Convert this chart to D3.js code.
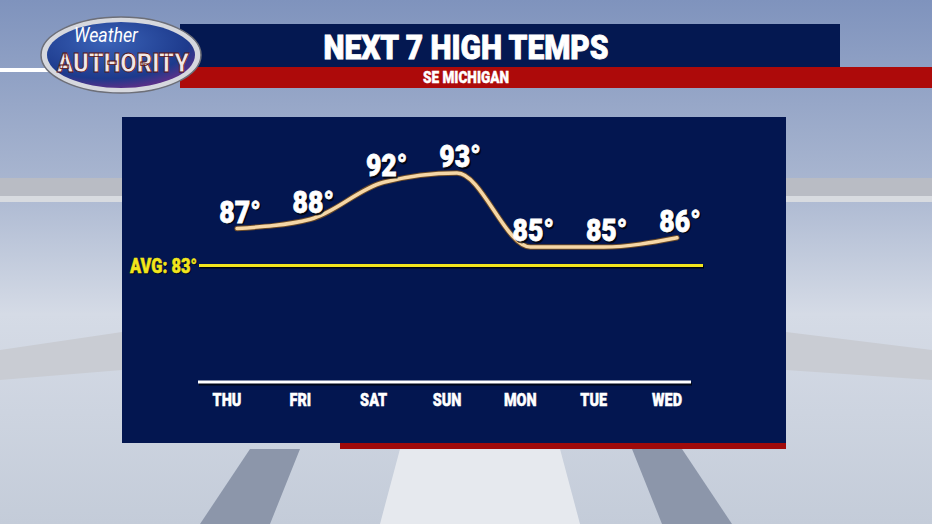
<!DOCTYPE html>
<meta charset="utf-8">
<style>
body { margin: 0; background: #9aaac8; overflow: hidden; }
svg { display: block; font-family: Roboto, "Liberation Sans", Arial, sans-serif; }
</style>
<svg class="chart" width="932" height="524"></svg>
<script src="https://cdn.jsdelivr.net/npm/d3@7"></script>
<script>
var days = ["THU", "FRI", "SAT", "SUN", "MON", "TUE", "WED"];
var highs = [87, 88, 92, 93, 85, 85, 86];
var avgTemp = 83;
var titleText = "NEXT 7 HIGH TEMPS";
var subText = "SE MICHIGAN";

var svg = d3.select(".chart");
var defs = svg.append("defs");

// heavy narrow text: draw at origin then squeeze horizontally
function narrowText(parent, tx, ty, str, size, fill, anchor, sx) {
  return parent.append("text")
    .attr("transform", "translate(" + tx + "," + ty + ") scale(" + (sx || 0.8) + ",1)")
    .attr("text-anchor", anchor || "middle")
    .style("font-size", size + "px")
    .style("font-weight", "900")
    .attr("fill", fill)
    .attr("stroke", fill)
    .attr("stroke-width", size / 40)
    .text(str);
}

// background sky + studio floor
var sky = defs.append("linearGradient").attr("id", "sky").attr("x1", 0).attr("y1", 0).attr("x2", 0).attr("y2", 1);
sky.append("stop").attr("offset", 0).attr("stop-color", "#7f93bd");
sky.append("stop").attr("offset", 0.35).attr("stop-color", "#a9b6d0");
sky.append("stop").attr("offset", 0.6).attr("stop-color", "#d5dbe6");
sky.append("stop").attr("offset", 1).attr("stop-color", "#c4ccd9");
svg.append("rect").attr("width", 932).attr("height", 524).attr("fill", "url(#sky)");

svg.append("rect").attr("x", 0).attr("y", 178).attr("width", 932).attr("height", 18).attr("fill", "#b9bcc4");
svg.append("rect").attr("x", 0).attr("y", 196).attr("width", 932).attr("height", 6).attr("fill", "#d8dbe0");
svg.append("path").attr("d", "M0,350 L122,332 L122,370 L0,380Z").attr("fill", "#c9ccd3");
svg.append("path").attr("d", "M932,350 L786,332 L786,370 L932,380Z").attr("fill", "#c9ccd3");
svg.append("path").attr("d", "M200,524 L250,449 L300,449 L270,524Z").attr("fill", "#8c96aa");
svg.append("path").attr("d", "M732,524 L682,449 L632,449 L662,524Z").attr("fill", "#8c96aa");
svg.append("path").attr("d", "M380,524 L400,449 L560,449 L580,524Z").attr("fill", "#e6e9ee");

// header bars
svg.append("rect").attr("x", 0).attr("y", 68).attr("width", 50).attr("height", 4).attr("fill", "#fff");
svg.append("rect").attr("x", 180).attr("y", 24).attr("width", 660).attr("height", 43).attr("fill", "#041851");
svg.append("rect").attr("x", 180).attr("y", 67).attr("width", 752).attr("height", 21).attr("fill", "#ad0a0a");
narrowText(svg, 466, 59, titleText, 34, "#fff", "middle", 0.88);
narrowText(svg, 466, 83, subText, 16, "#fff", "middle", 0.85);

// logo
var lg = defs.append("radialGradient").attr("id", "logo").attr("cx", 0.4).attr("cy", 0.3).attr("r", 0.8);
lg.append("stop").attr("offset", 0).attr("stop-color", "#3b63b8");
lg.append("stop").attr("offset", 0.7).attr("stop-color", "#1d3a8c");
lg.append("stop").attr("offset", 1).attr("stop-color", "#7a2a86");
svg.append("ellipse").attr("cx", 121).attr("cy", 55).attr("rx", 80).attr("ry", 38)
  .attr("fill", "#d6d8de").attr("stroke", "#6d6f78").attr("stroke-width", 1.5);
svg.append("ellipse").attr("cx", 121).attr("cy", 55).attr("rx", 74).attr("ry", 33).attr("fill", "url(#logo)");
svg.append("text").attr("transform", "translate(106,42) scale(0.85,1)").attr("text-anchor", "middle")
  .style("font-style", "italic").style("font-size", "21px").attr("fill", "#fff").text("Weather");
narrowText(svg, 123, 72, "AUTHORITY", 25, "#f1e8e8", "middle", 0.95)
  .attr("stroke", "#5a1010").attr("stroke-width", 0.8);

// chart panel
svg.append("rect").attr("x", 340).attr("y", 440).attr("width", 446).attr("height", 9).attr("fill", "#a00a0a");
svg.append("rect").attr("x", 122).attr("y", 117).attr("width", 664).attr("height", 326).attr("fill", "#031650");

var x = d3.scalePoint().domain(days).range([228, 668]);
var y = d3.scaleLinear().domain([85, 93]).range([247, 173]);

// day axis
svg.append("line").attr("x1", 199).attr("x2", 692).attr("y1", 384).attr("y2", 384)
  .attr("stroke", "#000").attr("stroke-opacity", 0.7).attr("stroke-width", 3);
svg.append("line").attr("x1", 198).attr("x2", 691).attr("y1", 382).attr("y2", 382)
  .attr("stroke", "#fff").attr("stroke-width", 3);
days.forEach(function(d) {
  narrowText(svg, x(d) - 1, 406, d, 19, "#fff", "middle", 0.76);
});

// average line
var ay = y(avgTemp);
svg.append("line").attr("x1", 200).attr("x2", 704).attr("y1", ay + 1.5).attr("y2", ay + 1.5)
  .attr("stroke", "#000").attr("stroke-opacity", 0.8).attr("stroke-width", 3);
svg.append("line").attr("x1", 199).attr("x2", 703).attr("y1", ay).attr("y2", ay)
  .attr("stroke", "#f2e51c").attr("stroke-width", 3);
narrowText(svg, 198, ay + 8, "AVG: " + avgTemp + "°", 20, "#000", "end", 0.82).attr("opacity", 0.7);
narrowText(svg, 197, ay + 7, "AVG: " + avgTemp + "°", 20, "#f2e51c", "end", 0.82);

// temperature curve
var line = d3.line()
  .x(function(d, i) { return x(days[i]) + 9; })
  .y(function(d) { return y(d); })
  .curve(d3.curveMonotoneX);

svg.append("path").datum(highs)
  .attr("d", line).attr("fill", "none")
  .attr("stroke", "#6a4a28").attr("stroke-width", 5.5).attr("stroke-linecap", "round");
svg.append("path").datum(highs)
  .attr("d", line).attr("fill", "none")
  .attr("stroke", "#f6d7a6").attr("stroke-width", 3.5).attr("stroke-linecap", "round");

highs.forEach(function(d, i) {
  var tx = x(days[i]) + 12, ty = y(d) - 6;
  narrowText(svg, tx + 1.5, ty + 1.5, d + "°", 31, "#000", "middle", 0.86).attr("opacity", 0.75);
  narrowText(svg, tx, ty, d + "°", 31, "#fff", "middle", 0.86);
});
</script>
